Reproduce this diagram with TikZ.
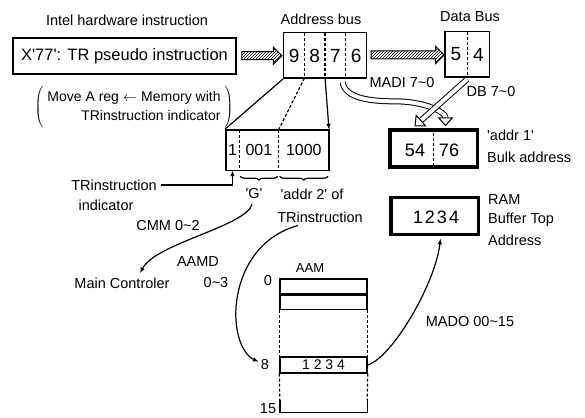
\documentclass[tikz,border=0pt]{standalone}
\usepackage{fontspec}
\setmainfont{Liberation Sans}
\usetikzlibrary{positioning, arrows.meta, shapes.arrows, fit, calc, decorations.pathreplacing, patterns}

\begin{document}
\begin{tikzpicture}[
        x=1pt, y=-1pt,
        >={Latex[length=6pt,width=4.5pt]},
        lbl/.style={inner sep=0pt, font=\fontsize{14.5}{17}\selectfont},
        box/.style={draw, line width=1.4pt, inner sep=0pt},
        cell/.style={inner sep=0pt, minimum height=45pt, minimum width=20.25pt, font=\fontsize{19}{21}\selectfont},
        fcell/.style={inner sep=0pt, minimum height=40pt, font=\fontsize{16}{18}\selectfont},
        bigbox/.style={draw, line width=3.5pt, minimum width=87.5pt, minimum height=37pt, inner sep=0pt},
        digits/.style={inner sep=0pt, font=\fontsize{18}{20}\selectfont},
        div/.style={dash pattern=on 3pt off 2pt, line width=1.2pt},
        hatch/.style={single arrow, draw, line width=1pt, pattern=north east lines, text height=7pt, text depth=0pt, minimum width=16pt, single arrow head extend=4.5pt, inner sep=0pt},
        band/.style={double, double distance=4pt, line width=1pt, -{Triangle[fill=white,length=9pt,width=16pt]}},
        link/.style={->, line width=1.2pt},
        brace/.style={decorate, decoration={brace, amplitude=4pt, mirror}, line width=1.2pt},
        row/.style={draw, line width=1.4pt, minimum width=87pt, inner sep=0pt},
    ]
    \useasboundingbox (0,0) rectangle (585,417);

    % === INSTRUCTION (left) ===
    \node[lbl] (intel) at (127,20) {Intel hardware instruction};
    \node[box, minimum width=223pt, minimum height=36pt, font=\fontsize{16.5}{19}\selectfont] (instr) at (124.5,56) {X\textquotesingle 77\textquotesingle : TR pseudo instruction};
    \node[lbl, font=\fontsize{14}{20}\selectfont] (note) at (134,107) {$\left(\;\begin{tabular}{@{}r@{}}Move A reg $\leftarrow$ Memory with\\ TRinstruction indicator\end{tabular}\;\right)$};

    % === ADDRESS BUS ===
    \node[lbl] (abuslbl) at (321,19) {Address bus};
    \node[cell] (c9) at (294.1,55.5) {9};
    \node[cell, right=0pt of c9] (c8) {8};
    \node[cell, right=0pt of c8] (c7) {7};
    \node[cell, right=0pt of c7] (c6) {6};
    \node[box, fit=(c9)(c6)] (abus) {};
    \draw[div] (c9.north east) -- (c9.south east);
    \draw[div] (c8.north east) -- (c8.south east);
    \draw[div] (c7.north east) -- (c7.south east);

    % === DATA BUS ===
    \node[lbl] (dbuslbl) at (470,17) {Data Bus};
    \node[cell, minimum width=22pt] (c5) at (456,54.5) {5};
    \node[cell, minimum width=22pt, right=0pt of c5] (c4) {4};
    \node[box, fit=(c5)(c4)] (dbus) {};
    \draw[div] (c5.north east) -- (c5.south east);

    % hatched arrows
    \path (instr.east) -- (abus.west) node[midway, hatch, minimum height=40pt] (h1) {};
    \path (abus.east) -- (dbus.west) node[midway, hatch, minimum height=73pt] (h2) {};

    \node[lbl] (madi) at (402,83) {MADI 7\textasciitilde 0};
    \node[lbl] (db) at (491,92) {DB 7\textasciitilde 0};

    % === ADDR 1 / RAM ===
    \node[bigbox] (addr1) at (433.5,148.5) {};
    \node[digits] (d54) at (415,150) {54};
    \node[digits] (d76) at (449,150) {76};
    \draw[div] (addr1.north) -- (addr1.south);
    \node[lbl, anchor=west] (addr1lbl) at (487,135) {\textquotesingle addr 1\textquotesingle};
    \node[lbl, anchor=west] (bulk) at (487,157) {Bulk address};

    \node[bigbox] (ram) at (434.5,216) {};
    \node[digits] (ramval) at (436,217) {1\kern2pt 2\kern2pt 3\kern2pt 4};
    \node[lbl, anchor=west] (ramlbl) at (488,200) {RAM};
    \node[lbl, anchor=west] (buftop) at (488,220) {Buffer Top};
    \node[lbl, anchor=west] (bufaddr) at (488,240) {Address};

    % hollow arrows
    \draw[band] ($(c6.south west)+(-3,4)$) .. controls +(2,16) and +(-25,0) .. ($(madi.south)+(-7,13)$)
        .. controls +(30,0) and +(0,-14) .. ($(addr1.north)+(12,-2)$);
    \draw[band] ($(c5.south east)+(0,2)$) -- ($(addr1.north)+(-19,-2)$);

    % === FIELD BOX ===
    \node[fcell, minimum width=13pt] (f1) at (232.5,150) {1};
    \node[fcell, minimum width=39pt, right=0pt of f1] (f001) {001};
    \node[fcell, minimum width=50pt, right=0pt of f001] (f1000) {1000};
    \node[box, fit=(f1)(f1000)] (field) {};
    \draw[div] (f1.north east) -- (f1.south east);
    \draw[div] (f001.north east) -- (f001.south east);

    \draw[line width=1.2pt] (abus.south west) -- (field.north west);
    \draw[div] (c9.south east) -- (f001.north east);
    \draw[link] (c8.south east) -- (f1000.north east);

    \draw[brace] ($(f001.south west)+(1,6)$) -- ($(f001.south east)+(-1,6)$);
    \draw[brace] ($(f1000.south west)+(1,6)$) -- ($(f1000.south east)+(-1,6)$);
    \node[lbl] (gq) at (254,194) {\textquotesingle G\textquotesingle};
    \node[lbl] (addr2) at (312,194) {\textquotesingle addr 2\textquotesingle\ of};
    \node[lbl] (trins) at (320,217) {TRinstruction};

    \node[lbl] (trind) at (114,185) {TRinstruction};
    \node[lbl] (trindb) at (106,205) {indicator};
    \draw[link] ($(trind.east)+(4,0)$) -| (f1.south);

    % === CONTROL ===
    \node[lbl] (cmm) at (168,226) {CMM 0\textasciitilde 2};
    \node[lbl] (mainc) at (122,283) {Main Controler};
    \draw[link] ($(gq.south)+(-2,5)$) .. controls +(-6,22) and +(15,-30) .. ($(mainc.north)+(18,-4)$);

    \node[lbl] (aamd) at (198,262) {AAMD};
    \node[lbl] (aamdn) at (216,283) {0\textasciitilde 3};

    % === AAM TABLE ===
    \node[lbl, font=\fontsize{13}{15}\selectfont] (aamlbl) at (310,268) {AAM};
    \node[row, minimum height=15pt] (r0) at (323.5,286.5) {};
    \node[row, minimum height=14pt, below=0pt of r0] (r1) {};
    \node[row, minimum height=16pt, font=\fontsize{14}{16}\selectfont] (r8) at (323.5,365) {1 2 3 4};
    \node[minimum width=87pt, minimum height=12pt, inner sep=0pt] (r15) at (323.5,406) {};
    \draw[line width=1.4pt] (r15.north west) -- (r15.south west) -- (r15.south east) -- (r15.north east);
    \draw[div] (r1.south west) -- (r8.north west);
    \draw[div] (r1.south east) -- (r8.north east);
    \draw[div] (r8.south west) -- (r15.north west);
    \draw[div] (r8.south east) -- (r15.north east);

    \node[lbl] (lab0) at (268,281) {0};
    \node[lbl] (lab8) at (265,365) {8};
    \node[lbl] (lab15) at (268,409) {15};

    \draw[link] ($(trins.south)+(-22,3)$) .. controls +(-73,20) and +(-34,-17) .. ($(lab8.west)+(-2,-3)$);

    \node[lbl] (mado) at (470,322) {MADO 00\textasciitilde 15};
    \draw[link] (r8.east) .. controls +(25,-8) and +(-5,45) .. ($(ram.south)+(6,2)$);

\end{tikzpicture}
\end{document}
